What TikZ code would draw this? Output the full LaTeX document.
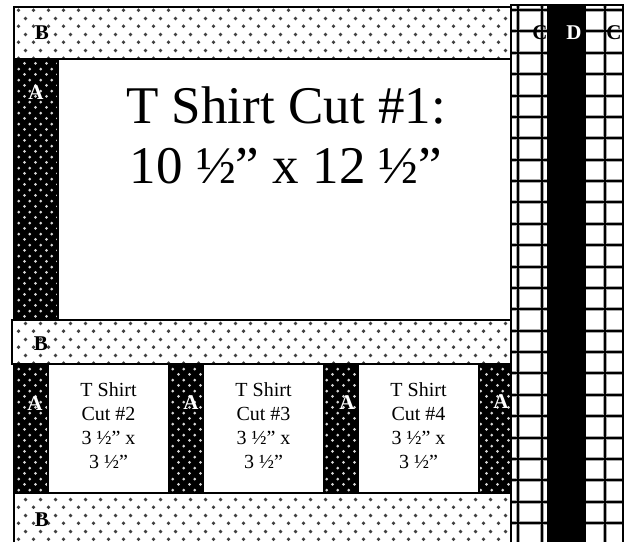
\documentclass[tikz,border=0pt]{standalone}
\usepackage{fontspec}
\setmainfont{Liberation Serif}
\usetikzlibrary{patterns}
\pgfdeclarepatternformonly{bdots}{\pgfpointorigin}{\pgfpoint{7.5pt}{8pt}}{\pgfpoint{7.5pt}{8pt}}%
  {\pgfpathcircle{\pgfpoint{1.875pt}{2pt}}{1pt}\pgfpathcircle{\pgfpoint{5.625pt}{6pt}}{1pt}\pgfusepath{fill}}
\pgfdeclarepatternformonly{adots}{\pgfpointorigin}{\pgfpoint{5.5pt}{5.6pt}}{\pgfpoint{5.5pt}{5.6pt}}%
  {\pgfpathcircle{\pgfpoint{1.375pt}{1.4pt}}{0.8pt}\pgfpathcircle{\pgfpoint{4.125pt}{4.2pt}}{0.8pt}\pgfusepath{fill}}
\tikzset{
  bord/.style={draw=black, line width=.8pt},
  bfill/.style={preaction={fill=white}, pattern=bdots, pattern color=black!75},
  bstrip/.style={bfill, bord},
  astrip/.style={bord, preaction={fill=black}, pattern=adots, pattern color=white!85!black},
  cutb/.style={bord, fill=white},
  plaid/.style={line width=2pt, black!35},
  plaidc/.style={line width=1pt, black},
  lab/.style={font=\fontsize{10.5}{12}\selectfont\bfseries, inner sep=0pt},
  labw/.style={lab, text=white},
  bigcut/.style={font=\fontsize{26.5}{30}\selectfont, align=center, inner sep=0pt, anchor=north},
  cut/.style={font=\fontsize{10}{12}\selectfont, align=center, inner sep=0pt, anchor=north},
}

\begin{document}
\begin{tikzpicture}[x=0.5pt, y=-0.5pt]
\useasboundingbox (0,0) rectangle (630,542);
\fill[white] (511,5) rectangle (623,542);
\foreach \gx in {518,542,605} \draw[plaid] (\gx,5) -- (\gx,542);
\foreach \k in {0,...,24} \draw[plaid] (511,{10+21.375*\k}) -- (623,{10+21.375*\k});
\foreach \gx in {518,542,605} \draw[plaidc] (\gx,5) -- (\gx,542);
\foreach \k in {0,...,24} \draw[plaidc] (511,{10+21.375*\k}) -- (623,{10+21.375*\k});
\fill[black] (548,5) rectangle (586,542);
\draw[bord] (548,542) -- (548,5);
\draw[bord] (511,542) -- (511,5) -- (623,5) -- (623,542);

\draw[bstrip] (14,7) rectangle (511,59);
\draw[astrip] (14,59) rectangle (58,320);
\draw[cutb] (58,59) rectangle (511,320);
\draw[bstrip] (12,320) rectangle (511,364);
\foreach \ax/\bx in {14/48,169/203,324/358,479/511}
  \draw[astrip] (\ax,364) rectangle (\bx,493);
\foreach \cx in {48,203,358}
  \draw[cutb] (\cx,364) rectangle (\cx+121,493);
\path[bfill] (14,493) rectangle (511,542);
\draw[bord] (14,542) -- (14,493) -- (511,493) -- (511,542);

\node[bigcut] (cut1) at (286,86) {T Shirt Cut \#1:\\10 ½” x 12 ½”};
\node[cut] (cut2) at (108.5,382) {T Shirt\\Cut \#2\\3 ½” x\\3 ½”};
\node[cut] (cut3) at (263.5,382) {T Shirt\\Cut \#3\\3 ½” x\\3 ½”};
\node[cut] (cut4) at (418.5,382) {T Shirt\\Cut \#4\\3 ½” x\\3 ½”};

\node[lab] (btop) at (42,33) {B};
\node[lab] (bmid) at (41,344) {B};
\node[lab] (bbot) at (42,520) {B};
\node[labw] (atop) at (36,93) {A};
\node[labw] (a1) at (35,404) {A};
\node[labw] (a2) at (191,403) {A};
\node[labw] (a3) at (347,403) {A};
\node[labw] (a4) at (501,402) {A};
\node[lab] (cleft) at (540,33) {C};
\node[labw] (dmid) at (574,33) {D};
\node[lab] (cright) at (614,33) {C};
\end{tikzpicture}
\end{document}
